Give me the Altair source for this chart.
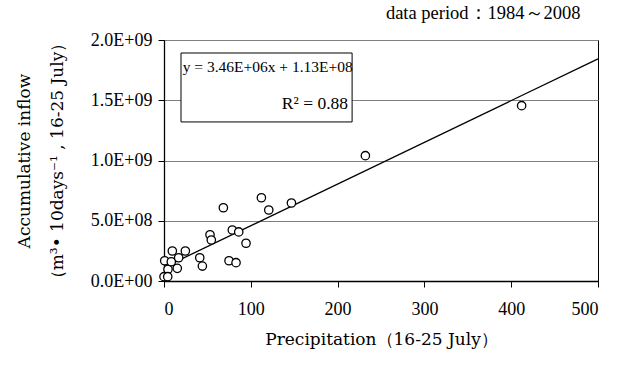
import altair as alt
import pandas as pd

# ---- data ----
precip = [0.8, 4.6, 0.0, 4.3, 9.6, 8.4, 16.9, 15.3, 24.6, 41.2, 44.2, 53.0,
          54.5, 68.4, 74.9, 78.7, 83.0, 86.1, 94.5, 112.2, 120.7, 146.8, 232.0, 412.0]
inflow = [1.68e8, 0.97e8, 0.36e8, 0.36e8, 2.49e8, 1.60e8, 1.93e8, 1.05e8, 2.49e8,
          1.93e8, 1.24e8, 3.84e8, 3.40e8, 6.08e8, 1.68e8, 4.23e8, 1.52e8, 4.07e8,
          3.13e8, 6.91e8, 5.89e8, 6.47e8, 1.04e9, 1.455e9]

fit_slope = 3.46e6
fit_intercept = 1.13e8
fit_x = [0, 500]

x_ticks = [0, 100, 200, 300, 400, 500]
y_ticks = [0, 5e8, 1e9, 1.5e9, 2e9]
y_labels = ["0.0E+00", "5.0E+08", "1.0E+09", "1.5E+09", "2.0E+09"]

eq_text = ["y = 3.46E+06x + 1.13E+08", "R\u00b2 = 0.88"]
box_x = [19.6, 216.7]
box_y = [1.32e9, 1.892e9]
eq_x = [21.5, 212.0]
eq_y = [1.776e9, 1.47e9]

FONT = "Liberation Serif"
TFONT = "DejaVu Serif"

pts = pd.DataFrame({"x": precip, "y": inflow})
fit = pd.DataFrame({"x": fit_x, "y": [fit_slope * v + fit_intercept for v in fit_x]})
box = pd.DataFrame({"x": [box_x[0]], "x2": [box_x[1]], "y": [box_y[0]], "y2": [box_y[1]]})
eq1 = pd.DataFrame({"x": [eq_x[0]], "y": [eq_y[0]], "t": [eq_text[0]]})
eq2 = pd.DataFrame({"x": [eq_x[1]], "y": [eq_y[1]], "t": [eq_text[1]]})

label_expr = "".join(
    f"datum.value == {int(v)} ? '{l}' : " for v, l in zip(y_ticks, y_labels)
) + "''"

xscale = alt.Scale(domain=[0, 500], nice=False, zero=False)
yscale = alt.Scale(domain=[0, 2e9], nice=False)

xaxis = alt.Axis(values=x_ticks, title="Precipitation\uff0816-25 July\uff09",
                 grid=False, tickSize=6, labelPadding=13, titlePadding=13)
yaxis = alt.Axis(values=y_ticks, labelExpr=label_expr,
                 title=["Accumulative inflow", "\uff08m\u00b3\u2022 10days\u207b\u00b9 , 16-25 July\uff09"],
                 grid=True, tickSize=6, labelPadding=6, titlePadding=24)

base_x = alt.X("x:Q", scale=xscale, axis=xaxis)
base_y = alt.Y("y:Q", scale=yscale, axis=yaxis)

line = alt.Chart(fit).mark_line(color="black", strokeWidth=1.3).encode(x=base_x, y=base_y)
points = alt.Chart(pts).mark_point(shape="circle", filled=False, fill="white",
                                   fillOpacity=1, color="black", size=70,
                                   strokeWidth=1.3).encode(x="x:Q", y="y:Q")
rect = alt.Chart(box).mark_rect(fill="white", stroke="black", strokeWidth=1).encode(
    x="x:Q", x2="x2", y="y:Q", y2="y2")
t1 = alt.Chart(eq1).mark_text(font=FONT, fontSize=15.5, align="left", baseline="middle",
                              color="black").encode(x="x:Q", y="y:Q", text="t:N")
t2 = alt.Chart(eq2).mark_text(font=FONT, fontSize=17.5, align="right", baseline="middle",
                              color="black").encode(x="x:Q", y="y:Q", text="t:N")

chart = alt.layer(line, points, rect, t1, t2).properties(
    width=434, height=241,
    autosize=alt.AutoSizeParams(type="none"),
    padding={"left": 164, "top": 40, "right": 24, "bottom": 84},
    title=alt.TitleParams("data period\uff1a1984\uff5e2008", anchor="end", fontSize=18.5,
                          font=FONT, fontWeight="normal", color="black", offset=9, dx=-20),
).configure_view(stroke="black", strokeWidth=1).configure_axis(
    labelFont=FONT, titleFont=TFONT, labelFontSize=18, titleFontSize=17,
    labelColor="black", titleColor="black", titleFontWeight="normal",
    domainColor="black", tickColor="black", gridColor="#808080", gridWidth=1.2,
    domainWidth=1.3, tickWidth=1,
).configure_axisY(titleLineHeight=33)

chart.save("out.html", embed_options={"renderer": "svg", "actions": False})
